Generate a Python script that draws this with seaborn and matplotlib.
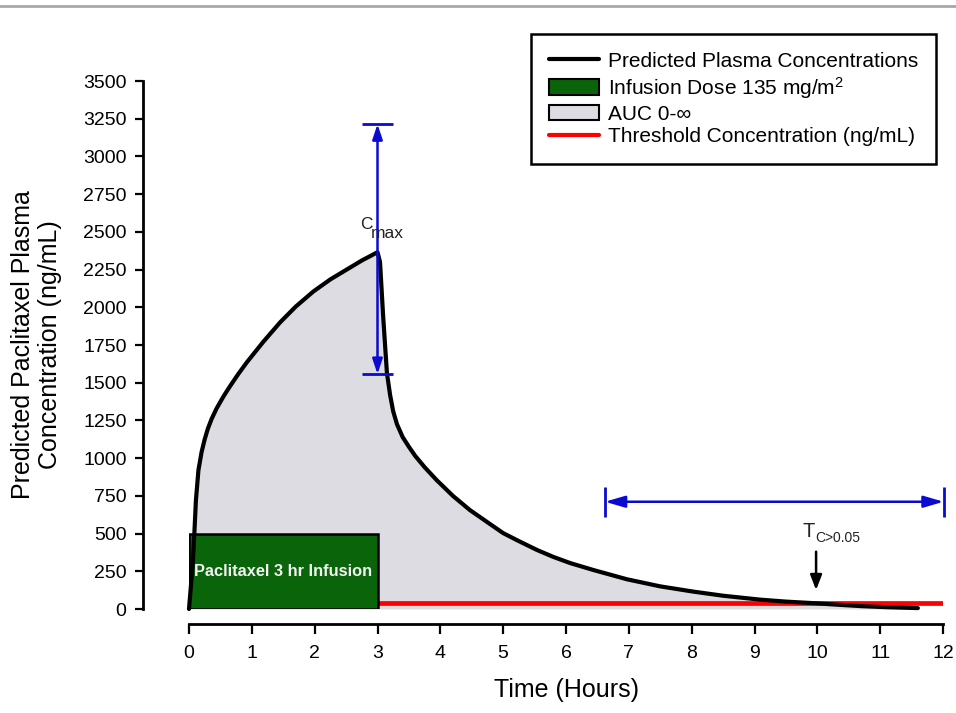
import numpy as np
import pandas as pd
import matplotlib.pyplot as plt
import seaborn as sns
from matplotlib.lines import Line2D
from matplotlib.patches import Patch

# Datos (tiempo en horas, concentracion en ng/mL)
time_h = [0, 0.03, 0.06, 0.085, 0.11, 0.15, 0.20, 0.25, 0.30, 0.36, 0.44, 0.55, 0.65,
          0.78, 0.92, 1.18, 1.45, 1.70, 1.98, 2.25, 2.51, 2.75, 3.0,
          3.04, 3.09, 3.15, 3.20, 3.25, 3.31, 3.40, 3.50, 3.60, 3.75, 3.94,
          4.20, 4.47, 4.75, 5.0, 5.25, 5.54, 5.80, 6.07, 6.44, 6.97, 7.5,
          8.03, 8.5, 9.09, 9.5, 9.97, 10.3, 10.7, 11.1, 11.6]
conc_ng_ml = [0, 150, 300, 500, 720, 920, 1040, 1125, 1195, 1260, 1330, 1410, 1475,
              1555, 1635, 1770, 1900, 2005, 2105, 2185, 2250, 2310, 2365,
              2300, 1940, 1565, 1420, 1310, 1225, 1140, 1075, 1015, 940, 855,
              750, 656, 575, 503, 450, 391, 345, 304, 258, 197, 150,
              115, 88, 62, 49, 38, 29, 19, 12, 6]

infusion_start = 0
infusion_hours = 3
infusion_bar_height = 500
threshold_ng_ml = 43

cmax_x = 3.0
cmax_low, cmax_high = 1557, 3214
tc_x_start, tc_x_end = 6.62, 12.01
tc_y = 711
tc_arrow_x = 9.98
tc_arrow_top, tc_arrow_bottom = 380, 126

xticks = list(range(0, 13))
yticks = list(range(0, 3501, 250))

legend_labels = ['Predicted Plasma Concentrations',
                 'Infusion Dose 135 mg/m$^2$',
                 'AUC 0-\u221e',
                 'Threshold Concentration (ng/mL)']

# Estilo
sns.set_style('ticks', {'axes.edgecolor': 'black', 'xtick.color': 'black',
                        'ytick.color': 'black', 'text.color': 'black',
                        'axes.labelcolor': 'black'})
plt.rcParams['font.family'] = ['Liberation Sans', 'DejaVu Sans']
plt.rcParams['mathtext.fontset'] = 'custom'
plt.rcParams['mathtext.rm'] = 'Liberation Sans'
plt.rcParams['mathtext.it'] = 'Liberation Sans:italic'
plt.rcParams['mathtext.bf'] = 'Liberation Sans:bold'

green = '#0a640a'
auc_gray = '#dcdce2'
blue = '#0a0ad2'

fig = plt.figure(figsize=(9.56, 7.13), dpi=100)
ax = fig.add_axes([189 / 956, 1 - 609 / 713, 754 / 956, 528 / 713])

df = pd.DataFrame({'time': time_h, 'conc': conc_ng_ml})

# AUC
ax.fill_between(df['time'], df['conc'], color=auc_gray, lw=0, zorder=1)
# umbral
ax.hlines(threshold_ng_ml, 0, 12, color='red', lw=3.4, zorder=2)
# infusion
ax.bar(infusion_start + infusion_hours / 2, infusion_bar_height, width=infusion_hours,
       color=green, edgecolor='black', linewidth=1.8, zorder=3)
ax.text(infusion_start + infusion_hours / 2, infusion_bar_height / 2, 'Paclitaxel 3 hr Infusion',
        color='#f2f2f2', fontsize=11.8, fontweight='bold', ha='center', va='center', zorder=4)
# curva
sns.lineplot(data=df, x='time', y='conc', color='black', lw=3, ax=ax, zorder=5,
             clip_on=False, sort=False)

# flecha Cmax
ax.annotate('', xy=(cmax_x, cmax_high), xytext=(cmax_x, cmax_low),
            arrowprops=dict(arrowstyle='<|-|>,head_length=0.9,head_width=0.3', color=blue,
                            lw=1.8, shrinkA=0, shrinkB=0), zorder=6)
ax.hlines([cmax_low, cmax_high], cmax_x - 0.25, cmax_x + 0.25, color=blue, lw=2, zorder=6)
ax.text(2.72, 2550, 'C', fontsize=12.5, color='#222222', ha='left', va='center', zorder=7)
ax.text(2.89, 2490, 'max', fontsize=12.5, color='#222222', ha='left', va='center', zorder=7)

# flecha T
ax.annotate('', xy=(tc_x_start, tc_y), xytext=(tc_x_end, tc_y),
            arrowprops=dict(arrowstyle='<|-|>,head_length=1.2,head_width=0.35', color=blue,
                            lw=1.8, shrinkA=0, shrinkB=0), zorder=6, annotation_clip=False)
ax.vlines([tc_x_start, tc_x_end], tc_y - 103, tc_y + 98, color=blue, lw=2, zorder=6,
          clip_on=False)
ax.annotate('', xy=(tc_arrow_x, tc_arrow_bottom), xytext=(tc_arrow_x, tc_arrow_top),
            arrowprops=dict(arrowstyle='-|>,head_length=0.9,head_width=0.35', color='black',
                            lw=1.8, shrinkA=0, shrinkB=0), zorder=6)
ax.text(9.76, 477, 'T', fontsize=14.5, color='#222222', ha='left', va='baseline', zorder=7)
ax.text(9.96, 446, 'C>0.05', fontsize=10, color='#222222', ha='left', va='baseline', zorder=7)

# ejes
ax.set_xlim(0, 12)
ax.set_ylim(0, 3500)
ax.set_xticks(xticks)
ax.set_yticks(yticks)
ax.tick_params(axis='both', direction='out', width=1.6, labelsize=14, colors='black')
ax.tick_params(axis='y', length=6, pad=6)
ax.tick_params(axis='x', length=7, pad=8)
sns.despine(ax=ax)
ax.spines['left'].set_position(('outward', 33))
ax.spines['bottom'].set_position(('outward', 11))
ax.spines['left'].set_linewidth(2)
ax.spines['bottom'].set_linewidth(2)

ax.set_xlabel('Time (Hours)', fontsize=18)
ax.set_ylabel('Predicted Paclitaxel Plasma\nConcentration (ng/mL)', fontsize=18)
ax.xaxis.set_label_coords(0.5, -0.13)
ax.yaxis.set_label_coords(-0.168, 0.5)

handles = [Line2D([0], [0], color='black', lw=3),
           Patch(facecolor=green, edgecolor='black', linewidth=1.5),
           Patch(facecolor=auc_gray, edgecolor='black', linewidth=1.5),
           Line2D([0], [0], color='red', lw=3)]
leg = ax.legend(handles, legend_labels, loc='upper right',
                bbox_to_anchor=(936 / 956, 1 - 34 / 713), bbox_transform=fig.transFigure,
                borderaxespad=0, frameon=True, fancybox=False, edgecolor='black',
                framealpha=1, fontsize=15, handlelength=2.4, handleheight=0.75,
                handletextpad=0.45, labelspacing=0.19, borderpad=0.85)
leg.get_frame().set_linewidth(1.8)

# linea gris superior
fig.add_artist(Line2D([0, 1], [1 - 6 / 713, 1 - 6 / 713], transform=fig.transFigure,
                      color='#a8a8a8', lw=2))

fig.savefig('out.png', dpi=100)
